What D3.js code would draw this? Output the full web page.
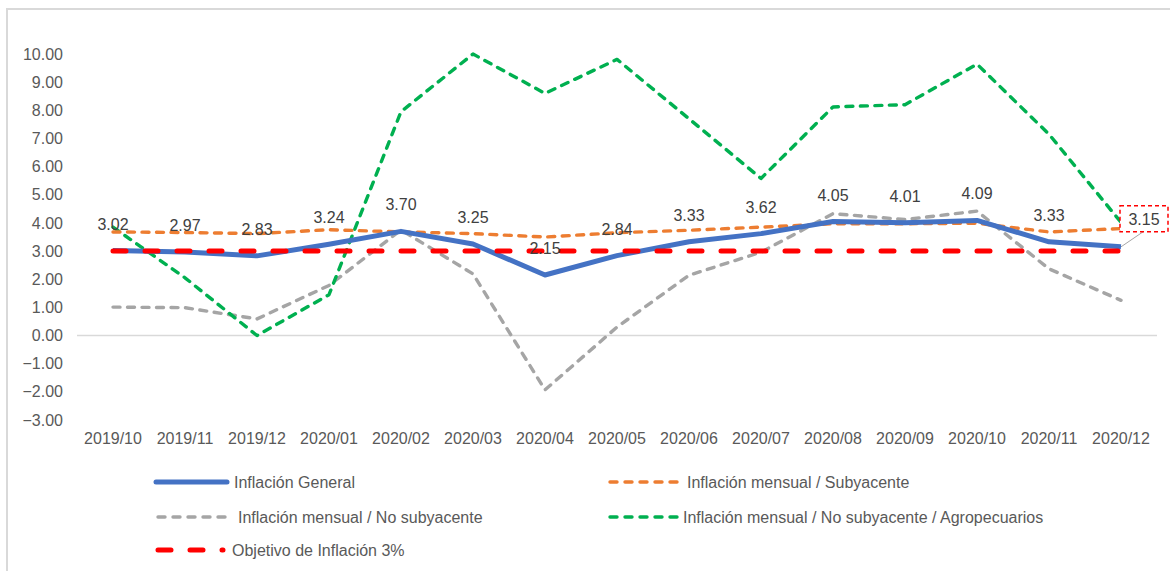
<!DOCTYPE html>
<html>
<head>
<meta charset="utf-8">
<script src="https://cdn.jsdelivr.net/npm/d3@7"></script>
<style>
  body { margin: 0; background: #fff; }
  text { font-family: "Liberation Sans", Arial, sans-serif; }
</style>
</head>
<body>
<script>
// months on the x axis
var months = ["2019/10", "2019/11", "2019/12", "2020/01", "2020/02", "2020/03", "2020/04", "2020/05",
              "2020/06", "2020/07", "2020/08", "2020/09", "2020/10", "2020/11", "2020/12"];

// series values
var general      = [3.02, 2.97, 2.83, 3.24, 3.70, 3.25, 2.15, 2.84, 3.33, 3.62, 4.05, 4.01, 4.09, 3.33, 3.15];
var subyacente   = [3.68, 3.66, 3.62, 3.76, 3.68, 3.62, 3.50, 3.65, 3.74, 3.85, 3.97, 3.97, 3.99, 3.68, 3.80];
var noSubyacente = [1.01, 0.99, 0.59, 1.78, 3.75, 2.19, -1.93, 0.30, 2.14, 2.96, 4.33, 4.12, 4.42, 2.37, 1.25];
var agro         = [3.85, 2.05, 0.00, 1.45, 7.95, 10.00, 8.60, 9.81, 7.70, 5.58, 8.12, 8.20, 9.64, 7.15, 4.02];
var objetivo     = [3, 3, 3, 3, 3, 3, 3, 3, 3, 3, 3, 3, 3, 3, 3];

var yTicks = [10, 9, 8, 7, 6, 5, 4, 3, 2, 1, 0, -1, -2, -3];

var width = 1170, height = 571;

var svg = d3.select("body").append("svg")
    .attr("width", width)
    .attr("height", height);

// chart border (left + top)
svg.append("path")
    .attr("d", "M7,571 L7,9 L1170,9")
    .attr("fill", "none")
    .attr("stroke", "#d9d9d9")
    .attr("stroke-width", 2);

var x = d3.scaleBand().domain(months).range([77, 1157]);
var y = d3.scaleLinear().domain([-3, 10]).range([420, 54]);
function cx(i) { return x(months[i]) + x.bandwidth() / 2; }

// y tick labels
svg.append("g").selectAll("text")
    .data(yTicks)
    .enter().append("text")
    .attr("x", 63)
    .attr("y", function(d) { return y(d); })
    .attr("dy", "0.35em")
    .attr("text-anchor", "end")
    .attr("font-size", 16)
    .attr("fill", "#595959")
    .text(function(d) { return d3.format(".2f")(d); });

// zero line
svg.append("line")
    .attr("x1", 77).attr("x2", 1157)
    .attr("y1", y(0)).attr("y2", y(0))
    .attr("stroke", "#d9d9d9")
    .attr("stroke-width", 1.5);

// x labels
svg.append("g").selectAll("text")
    .data(months)
    .enter().append("text")
    .attr("x", function(d, i) { return cx(i); })
    .attr("y", 444)
    .attr("text-anchor", "middle")
    .attr("font-size", 16)
    .attr("fill", "#595959")
    .text(function(d) { return d; });

var series = [
  {name: "Inflación mensual / No subyacente", values: noSubyacente, color: "#a5a5a5", width: 3.4, dash: "7,7.5", legendDash: "7,8"},
  {name: "Inflación mensual / No subyacente / Agropecuarios", values: agro, color: "#00b050", width: 3.4, dash: "7,7.5", legendDash: "7,8"},
  {name: "Inflación mensual / Subyacente", values: subyacente, color: "#ed7d31", width: 3.4, dash: "7,7.5", legendDash: "7,8"},
  {name: "Inflación General", values: general, color: "#4472c4", width: 5, dash: null, legendDash: null},
  {name: "Objetivo de Inflación 3%", values: objetivo, color: "#ff0000", width: 5, dash: "13,19", legendDash: "13,19"}
];

var line = d3.line()
    .x(function(d, i) { return cx(i); })
    .y(function(d) { return y(d); });

svg.append("g").selectAll("path")
    .data(series)
    .enter().append("path")
    .attr("d", function(d) { return line(d.values); })
    .attr("fill", "none")
    .attr("stroke", function(d) { return d.color; })
    .attr("stroke-width", function(d) { return d.width; })
    .attr("stroke-dasharray", function(d) { return d.dash; })
    .attr("stroke-linecap", function(d) { return d.dash ? "round" : "butt"; })
    .attr("stroke-linejoin", "round");

// data labels of Inflación General
var last = general.length - 1;
svg.append("g").selectAll("text")
    .data(general.slice(0, last))
    .enter().append("text")
    .attr("x", function(d, i) { return cx(i); })
    .attr("y", function(d) { return y(d) - 26.5; })
    .attr("dy", "0.35em")
    .attr("text-anchor", "middle")
    .attr("font-size", 16)
    .attr("fill", "#404040")
    .text(function(d) { return d.toFixed(2); });

// last label, moved out with a leader line and dashed box
var lx = cx(last), ly = y(general[last]);
svg.append("line")
    .attr("x1", lx).attr("y1", ly)
    .attr("x2", lx + 22).attr("y2", ly - 15)
    .attr("stroke", "#a6a6a6")
    .attr("stroke-width", 1);
svg.append("rect")
    .attr("x", lx - 1).attr("y", ly - 41)
    .attr("width", 48).attr("height", 26)
    .attr("fill", "#fff")
    .attr("stroke", "#ff0000")
    .attr("stroke-width", 1.5)
    .attr("stroke-dasharray", "4,3");
svg.append("text")
    .attr("x", lx + 23).attr("y", ly - 27)
    .attr("dy", "0.35em")
    .attr("text-anchor", "middle")
    .attr("font-size", 16)
    .attr("fill", "#404040")
    .text(general[last].toFixed(2));

// legend
var legendItems = [
  {s: series[3], x: 156, y: 482, tx: 234, len: 71},
  {s: series[2], x: 608, y: 482, tx: 687, len: 71},
  {s: series[0], x: 156, y: 517, tx: 238, len: 71},
  {s: series[1], x: 608, y: 517, tx: 683, len: 71},
  {s: series[4], x: 156, y: 550, tx: 232, len: 67}
];

var lg = svg.append("g").selectAll("g")
    .data(legendItems)
    .enter().append("g");

lg.append("line")
    .attr("x1", function(d) { return d.s.dash ? d.x + 2 : d.x; })
    .attr("x2", function(d) { return d.x + d.len; })
    .attr("y1", function(d) { return d.y; })
    .attr("y2", function(d) { return d.y; })
    .attr("stroke", function(d) { return d.s.color; })
    .attr("stroke-width", function(d) { return d.s.width; })
    .attr("stroke-dasharray", function(d) { return d.s.legendDash; })
    .attr("stroke-linecap", "round");

lg.append("text")
    .attr("x", function(d) { return d.tx; })
    .attr("y", function(d) { return d.y; })
    .attr("dy", "0.35em")
    .attr("font-size", 16)
    .attr("fill", "#595959")
    .text(function(d) { return d.s.name; });
</script>
</body>
</html>
